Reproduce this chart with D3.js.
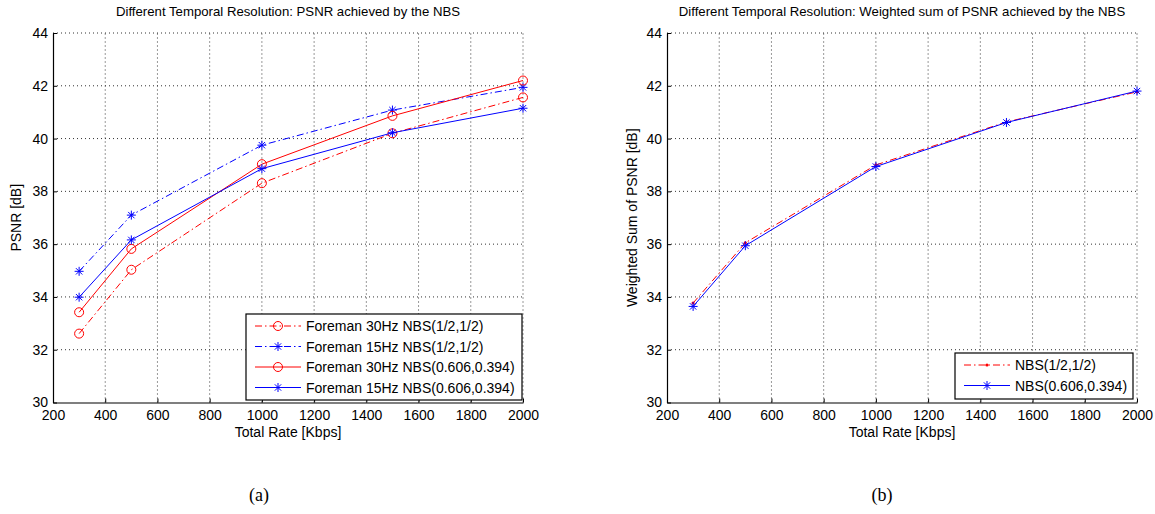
<!DOCTYPE html>
<html>
<head>
<meta charset="utf-8">
<script src="https://cdn.jsdelivr.net/npm/d3@7"></script>
<style>
  body { margin: 0; background: #fff; }
  svg { display: block; }
  text { font-family: "Liberation Sans", Arial, sans-serif; fill: #000; }
</style>
</head>
<body>
<svg width="1155" height="514"></svg>
<script>
// data
const rates = [300, 500, 1000, 1500, 2000];

const foreman30Half = [32.61, 35.03, 38.31, 40.2, 41.56];
const foreman15Half = [34.97, 37.1, 39.75, 41.08, 41.94];
const foreman30Opt = [33.42, 35.82, 39.03, 40.86, 42.2];
const foreman15Opt = [33.99, 36.16, 38.86, 40.22, 41.15];

const weightedHalf = [33.77, 36.05, 39.0, 40.63, 41.77];
const weightedOpt = [33.64, 35.94, 38.94, 40.61, 41.8];

const xTicks = [200, 400, 600, 800, 1000, 1200, 1400, 1600, 1800, 2000];
const yTicks = [30, 32, 34, 36, 38, 40, 42, 44];

const dashDot = "7,3,1.5,3";

var svg = d3.select("svg");

function star(sel, r) {
  var d = r * 0.707;
  sel.append("path")
    .attr("d", `M${-r},0H${r}M0,${-r}V${r}M${-d},${-d}L${d},${d}M${-d},${d}L${d},${-d}`);
}

function marker(g, type, color) {
  if (type === "o") {
    g.append("circle").attr("r", 4.5).attr("fill", "none").attr("stroke", color).attr("stroke-width", 1);
  } else if (type === "*") {
    g.append("g").attr("stroke", color).attr("stroke-width", 1).call(star, 4.5);
  } else if (type === ".") {
    g.append("circle").attr("r", 1.6).attr("fill", color);
  }
}

function drawPanel(opts) {
  var x = d3.scaleLinear().domain([200, 2000]).range([opts.left, opts.right]);
  var y = d3.scaleLinear().domain([30, 44]).range([402.5, 33]);
  var g = svg.append("g");

  // dotted grid
  g.append("g").selectAll("line").data(xTicks.slice(1)).join("line")
    .attr("x1", d => x(d)).attr("x2", d => x(d))
    .attr("y1", y(30)).attr("y2", y(44))
    .attr("stroke", "#333").attr("stroke-width", 1).attr("stroke-dasharray", "1,3");
  g.append("g").selectAll("line").data(yTicks.slice(1)).join("line")
    .attr("x1", x(200)).attr("x2", x(2000))
    .attr("y1", d => y(d)).attr("y2", d => y(d))
    .attr("stroke", "#333").attr("stroke-width", 1).attr("stroke-dasharray", "1,3");

  // axes with inward ticks
  var xAxis = g.append("g").attr("transform", `translate(0,${y(30)})`)
    .call(d3.axisBottom(x).tickValues(xTicks).tickFormat(d3.format("d"))
      .tickSize(-4).tickPadding(9).tickSizeOuter(0));
  var yAxis = g.append("g").attr("transform", `translate(${x(200)},0)`)
    .call(d3.axisLeft(y).tickValues(yTicks).tickFormat(d3.format("d"))
      .tickSize(-4).tickPadding(5).tickSizeOuter(0));
  [xAxis, yAxis].forEach(a => {
    a.select(".domain").attr("stroke", "#000").attr("stroke-width", 1.2);
    a.selectAll(".tick line").attr("stroke", "#000");
    a.selectAll("text").attr("font-size", 14).attr("font-family", "Liberation Sans, Arial, sans-serif");
  });
  xAxis.selectAll("text").attr("dy", "0.6em");

  // lines and markers
  var line = d3.line().x((d, i) => x(rates[i])).y(d => y(d));
  opts.series.forEach(s => {
    g.append("path").datum(s.values)
      .attr("d", line).attr("fill", "none")
      .attr("stroke", s.color).attr("stroke-width", 1)
      .attr("stroke-dasharray", s.dash || null);
    s.values.forEach((v, i) => {
      var m = g.append("g").attr("transform", `translate(${x(rates[i])},${y(v)})`);
      marker(m, s.marker, s.color);
    });
  });

  // title and axis labels
  g.append("text").attr("x", (opts.left + opts.right) / 2).attr("y", 16)
    .attr("text-anchor", "middle").attr("font-size", 13.2).text(opts.title);
  g.append("text").attr("x", (opts.left + opts.right) / 2).attr("y", 437)
    .attr("text-anchor", "middle").attr("font-size", 14).text("Total Rate [Kbps]");
  g.append("text")
    .attr("transform", `translate(${opts.ylabelX},${y(37)}) rotate(-90)`)
    .attr("text-anchor", "middle").attr("font-size", 14).text(opts.ylabel);

  // legend
  var lg = opts.legend;
  var box = g.append("g").attr("transform", `translate(${lg.x},${lg.y})`);
  box.append("rect").attr("width", lg.w).attr("height", lg.h)
    .attr("fill", "#fff").attr("stroke", "#000").attr("stroke-width", 1.2);
  opts.series.forEach((s, i) => {
    var cy = 12 + i * 20.5;
    box.append("line").attr("x1", 9).attr("x2", 55).attr("y1", cy).attr("y2", cy)
      .attr("stroke", s.color).attr("stroke-width", 1).attr("stroke-dasharray", s.dash || null);
    marker(box.append("g").attr("transform", `translate(32,${cy})`), s.marker, s.color);
    box.append("text").attr("x", 60).attr("y", cy).attr("dy", "0.36em")
      .attr("font-size", 14).text(s.name);
  });

  svg.append("text").attr("x", opts.captionX).attr("y", 501)
    .attr("text-anchor", "middle").attr("font-size", 18)
    .style("font-family", "Liberation Serif, serif")
    .text(opts.caption);
}

drawPanel({
  left: 53, right: 523,
  title: "Different Temporal Resolution: PSNR achieved by the NBS",
  ylabel: "PSNR [dB]", ylabelX: 21,
  caption: "(a)", captionX: 259,
  legend: { x: 246, y: 314, w: 276, h: 86 },
  series: [
    { name: "Foreman 30Hz NBS(1/2,1/2)", values: foreman30Half, color: "#ff0000", dash: dashDot, marker: "o" },
    { name: "Foreman 15Hz NBS(1/2,1/2)", values: foreman15Half, color: "#0000ff", dash: dashDot, marker: "*" },
    { name: "Foreman 30Hz NBS(0.606,0.394)", values: foreman30Opt, color: "#ff0000", marker: "o" },
    { name: "Foreman 15Hz NBS(0.606,0.394)", values: foreman15Opt, color: "#0000ff", marker: "*" }
  ]
});

drawPanel({
  left: 667, right: 1137,
  title: "Different Temporal Resolution: Weighted sum of PSNR achieved by the NBS",
  ylabel: "Weighted Sum of PSNR [dB]", ylabelX: 637,
  caption: "(b)", captionX: 882,
  legend: { x: 955, y: 353, w: 178, h: 46 },
  series: [
    { name: "NBS(1/2,1/2)", values: weightedHalf, color: "#ff0000", dash: dashDot, marker: "." },
    { name: "NBS(0.606,0.394)", values: weightedOpt, color: "#0000ff", marker: "*" }
  ]
});
</script>
</body>
</html>
